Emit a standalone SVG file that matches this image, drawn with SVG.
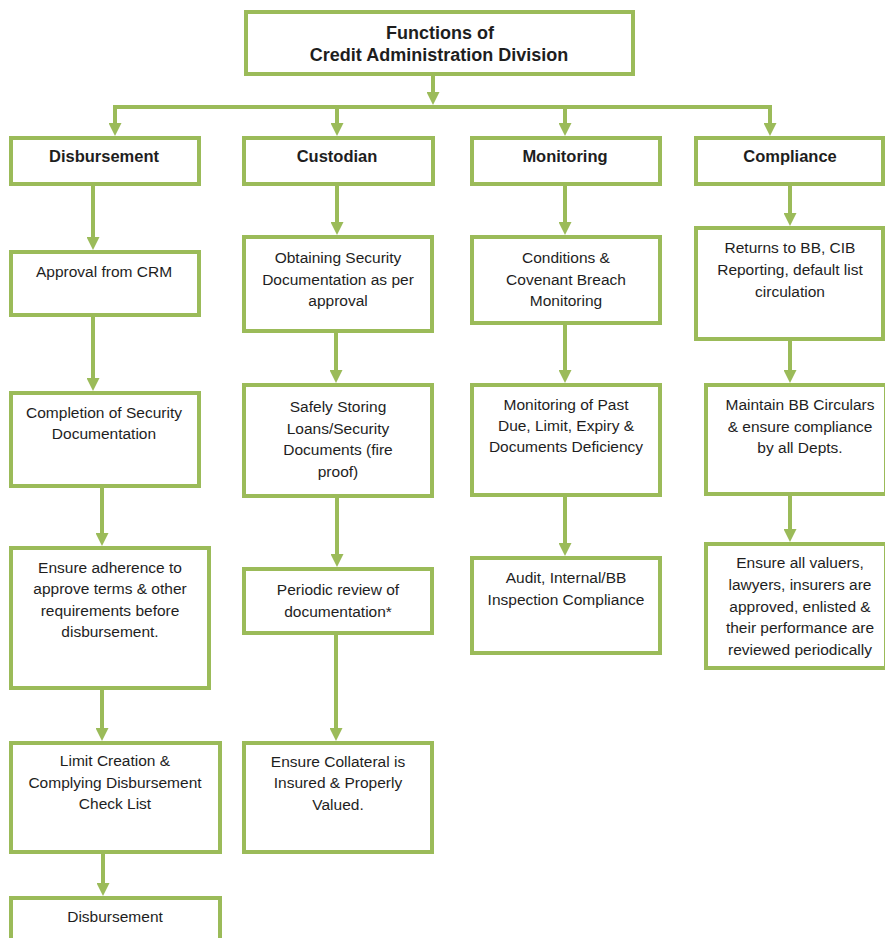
<svg xmlns="http://www.w3.org/2000/svg" width="885" height="938" viewBox="0 0 885 938">
<style>
  .box { fill: #ffffff; stroke: #9BBB59; stroke-width: 4; }
  .t { font-family: "Liberation Sans", Arial, sans-serif; font-size: 15.5px; fill: #1e1e1e; text-anchor: middle; }
  .h { font-family: "Liberation Sans", Arial, sans-serif; font-size: 16.5px; font-weight: bold; fill: #1e1e1e; text-anchor: middle; }
  .ti { font-family: "Liberation Sans", Arial, sans-serif; font-size: 18px; font-weight: bold; fill: #1e1e1e; text-anchor: middle; }
  .c { fill: none; stroke: #9BBB59; stroke-width: 4; }
  .a { fill: none; stroke: #9BBB59; stroke-width: 4; marker-end: url(#ah); }
</style>
<defs>
  <marker id="ah" markerUnits="userSpaceOnUse" markerWidth="13" markerHeight="13" viewBox="0 0 13 13" refX="0" refY="6.5" orient="auto">
    <path d="M0,0 L13,6.5 L0,13 z" fill="#9BBB59"/>
  </marker>
</defs>
<rect width="885" height="938" fill="#ffffff"/>

<g id="connectors">
  <path class="a" d="M433,75 V92"/>
  <path class="c" d="M113,107 H772"/>
  <path class="a" d="M115,105 V123"/>
  <path class="a" d="M337,105 V123"/>
  <path class="a" d="M565,105 V123"/>
  <path class="a" d="M770,105 V123"/>
  <!-- Disbursement column -->
  <path class="a" d="M93,186 V237"/>
  <path class="a" d="M93,317 V378"/>
  <path class="a" d="M102,488 V533"/>
  <path class="a" d="M102,690 V728"/>
  <path class="a" d="M103,854 V883"/>
  <!-- Custodian column -->
  <path class="a" d="M337,186 V222"/>
  <path class="a" d="M336,333 V370"/>
  <path class="a" d="M337,498 V554"/>
  <path class="a" d="M336,635 V728"/>
  <!-- Monitoring column -->
  <path class="a" d="M565,186 V222"/>
  <path class="a" d="M565,325 V370"/>
  <path class="a" d="M565,497 V543"/>
  <!-- Compliance column -->
  <path class="a" d="M790,186 V213"/>
  <path class="a" d="M790,341 V370"/>
  <path class="a" d="M790,496 V529"/>
</g>

<g id="title">
  <rect class="box" x="246" y="12" width="387" height="62"/>
  <text class="ti" x="440" y="39">Functions of</text>
  <text class="ti" x="439" y="61">Credit Administration Division</text>
</g>

<g id="disbursement">
  <rect class="box" x="11" y="138" width="188" height="46"/>
  <text class="h" x="104" y="162">Disbursement</text>
</g>
<g id="custodian">
  <rect class="box" x="244" y="138" width="189" height="46"/>
  <text class="h" x="337" y="162">Custodian</text>
</g>
<g id="monitoring">
  <rect class="box" x="472" y="138" width="188" height="46"/>
  <text class="h" x="565" y="162">Monitoring</text>
</g>
<g id="compliance">
  <rect class="box" x="696" y="138" width="187" height="46"/>
  <text class="h" x="790" y="162">Compliance</text>
</g>

<g id="d1">
  <rect class="box" x="11" y="252" width="188" height="63"/>
  <text class="t" x="104" y="277">Approval from CRM</text>
</g>
<g id="d2">
  <rect class="box" x="11" y="393" width="188" height="93"/>
  <text class="t" x="104" y="418">Completion of Security</text>
  <text class="t" x="104" y="439">Documentation</text>
</g>
<g id="d3">
  <rect class="box" x="11" y="548" width="198" height="140"/>
  <text class="t" x="110" y="573">Ensure adherence to</text>
  <text class="t" x="110" y="594">approve terms &amp; other</text>
  <text class="t" x="110" y="616">requirements before</text>
  <text class="t" x="110" y="637">disbursement.</text>
</g>
<g id="d4">
  <rect class="box" x="11" y="743" width="209" height="109"/>
  <text class="t" x="115" y="766">Limit Creation &amp;</text>
  <text class="t" x="115" y="788">Complying Disbursement</text>
  <text class="t" x="115" y="809">Check List</text>
</g>
<g id="d5">
  <rect class="box" x="11" y="898" width="209" height="60"/>
  <text class="t" x="115" y="922">Disbursement</text>
</g>

<g id="c1">
  <rect class="box" x="244" y="237" width="188" height="94"/>
  <text class="t" x="338" y="263">Obtaining Security</text>
  <text class="t" x="338" y="285">Documentation as per</text>
  <text class="t" x="338" y="306">approval</text>
</g>
<g id="c2">
  <rect class="box" x="244" y="385" width="188" height="111"/>
  <text class="t" x="338" y="412">Safely Storing</text>
  <text class="t" x="338" y="434">Loans/Security</text>
  <text class="t" x="338" y="455">Documents (fire</text>
  <text class="t" x="338" y="477">proof)</text>
</g>
<g id="c3">
  <rect class="box" x="244" y="569" width="188" height="64"/>
  <text class="t" x="338" y="595">Periodic review of</text>
  <text class="t" x="338" y="617">documentation*</text>
</g>
<g id="c4">
  <rect class="box" x="244" y="743" width="188" height="109"/>
  <text class="t" x="338" y="767">Ensure Collateral is</text>
  <text class="t" x="338" y="788">Insured &amp; Properly</text>
  <text class="t" x="338" y="810">Valued.</text>
</g>

<g id="m1">
  <rect class="box" x="472" y="237" width="188" height="86"/>
  <text class="t" x="566" y="263">Conditions &amp;</text>
  <text class="t" x="566" y="285">Covenant Breach</text>
  <text class="t" x="566" y="306">Monitoring</text>
</g>
<g id="m2">
  <rect class="box" x="472" y="385" width="188" height="110"/>
  <text class="t" x="566" y="410">Monitoring of Past</text>
  <text class="t" x="566" y="431">Due, Limit, Expiry &amp;</text>
  <text class="t" x="566" y="452">Documents Deficiency</text>
</g>
<g id="m3">
  <rect class="box" x="472" y="558" width="188" height="95"/>
  <text class="t" x="566" y="583">Audit, Internal/BB</text>
  <text class="t" x="566" y="605">Inspection Compliance</text>
</g>

<g id="p1">
  <rect class="box" x="696" y="228" width="187" height="111"/>
  <text class="t" x="790" y="253">Returns to BB, CIB</text>
  <text class="t" x="790" y="275">Reporting, default list</text>
  <text class="t" x="790" y="297">circulation</text>
</g>
<g id="p2">
  <rect class="box" x="706" y="385" width="180" height="109"/>
  <text class="t" x="800" y="410">Maintain BB Circulars</text>
  <text class="t" x="800" y="432">&amp; ensure compliance</text>
  <text class="t" x="800" y="453">by all Depts.</text>
</g>
<g id="p3">
  <rect class="box" x="706" y="544" width="180" height="124"/>
  <text class="t" x="800" y="568">Ensure all valuers,</text>
  <text class="t" x="800" y="590">lawyers, insurers are</text>
  <text class="t" x="800" y="612">approved, enlisted &amp;</text>
  <text class="t" x="800" y="633">their performance are</text>
  <text class="t" x="800" y="655">reviewed periodically</text>
</g>
</svg>
